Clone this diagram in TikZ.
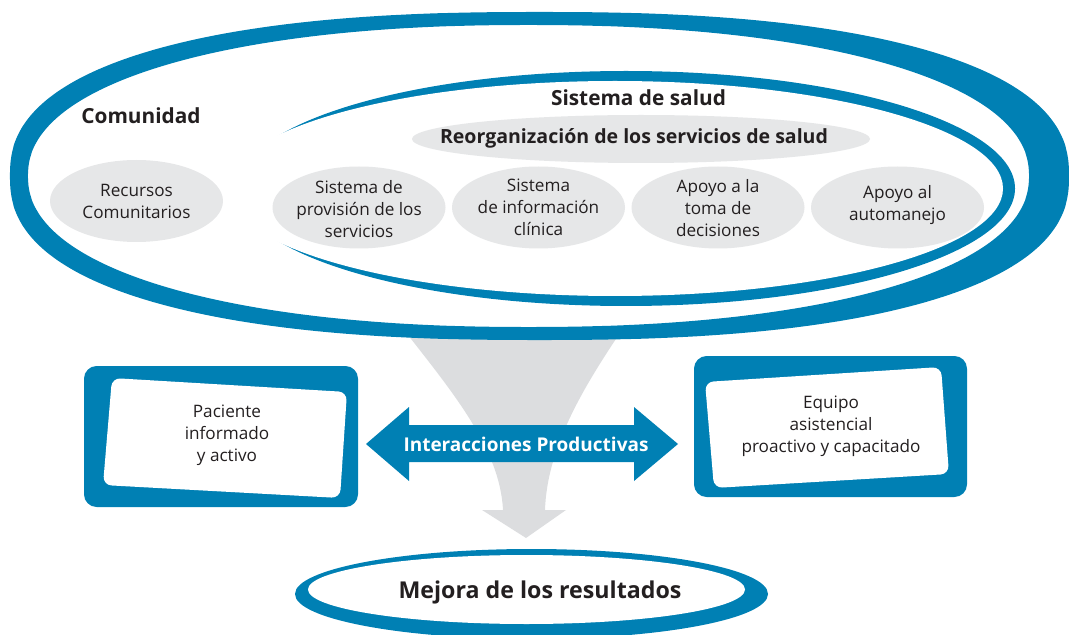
\documentclass[tikz,border=0pt]{standalone}
\usepackage{fontspec}
\setmainfont{Open Sans}
\usetikzlibrary{positioning}
\definecolor{ccmblue}{RGB}{0,128,180}
\definecolor{ccmgray}{RGB}{230,231,232}
\definecolor{ccmfunnel}{RGB}{220,221,223}
\definecolor{ccmtext}{RGB}{35,31,32}

\begin{document}
\begin{tikzpicture}[
  x=0.025cm, y=-0.025cm,
  lbl/.style={align=center, text=ccmtext, inner sep=0pt, font=\fontsize{12.2}{15.6}\selectfont},
  hd/.style={text=ccmtext, inner sep=0pt, font=\fontsize{14.8}{17}\selectfont\bfseries},
  swoosh/.style={fill=ccmblue},
  frame/.style={fill=ccmblue, rounded corners=9pt},
  card/.style={fill=white, rounded corners=6pt},
  sup/.style={domain=0.5:360.5, samples=361, variable=\t},
]
\useasboundingbox (0,0) rectangle (1069,635);

% funnel behind everything
\fill[ccmfunnel] (404,330) .. controls (455,395) and (500,450) .. (503,510) -- (482,510)
  -- (526,538) -- (566,510) -- (545,510) .. controls (547,450) and (580,392) .. (622,330) -- cycle;

% Comunidad ring (two superellipses)
\path[swoosh, even odd rule]
  plot[sup] ({539.5+529.5*sign(cos(\t))*pow(abs(cos(\t)),0.833)},
             {176+164*sign(sin(\t))*pow(abs(sin(\t)),0.833)}) -- cycle
  plot[sup] ({528.5+500.5*sign(cos(\t))*pow(abs(cos(\t)),0.909)},
             {176+151*sign(sin(\t))*pow(abs(sin(\t)),0.909)}) -- cycle;

% Sistema de salud ring
\fill[ccmblue] (626,188.5) ellipse [x radius=389, y radius=117.5];
\fill[white] (615,188.5) ellipse [x radius=388, y radius=107.5];

\node[hd] (com) at (141,116) {Comunidad};
\node[hd] (salud) at (638.5,98) {Sistema de salud};

\fill[ccmgray] (641,139) ellipse [x radius=229, y radius=24];
\node[hd, font=\fontsize{13.9}{15}\selectfont\bfseries] (reorg) at (634,138) {Reorganización de los servicios de salud};

\foreach \cx/\cy in {136.5/201, 359/207.5, 538.5/207.5, 718/207.5, 897.5/207.5}
  \fill[ccmgray] (\cx,\cy) ellipse [x radius=86.5, y radius=41];

\node[lbl] (rec) at (136.5,201) {Recursos\\Comunitarios};
\node[lbl] (prov) at (359,209) {Sistema de\\provisión de los\\servicios};
\node[lbl] (info) at (538.5,207.5) {Sistema\\de información\\clínica};
\node[lbl] (dec) at (718,208) {Apoyo a la\\toma de\\decisiones};
\node[lbl] (auto) at (897.5,205) {Apoyo al\\automanejo};

% patient and team
\fill[frame] (84,366) rectangle (358,507);
\fill[card] (112,378) -- (347,392) -- (340,498) -- (103,485) -- cycle;
\node[lbl] (pac) at (227,435) {Paciente\\informado\\y activo};

\fill[frame] (694,356) rectangle (967,497);
\fill[card] (705,382) -- (941,367) -- (949,474) -- (714,488) -- cycle;
\node[lbl] (eq) at (831,426) {Equipo\\asistencial\\proactivo y capacitado};

\fill[ccmblue] (366,444) -- (409,407) -- (409,425) -- (634,425) -- (634,407) -- (678,444)
  -- (634,481) -- (634,462) -- (409,462) -- (409,481) -- cycle;
\node[hd, text=white, font=\fontsize{13.5}{15}\selectfont\bfseries] (inter) at (526,444) {Interacciones Productivas};

% results
\fill[ccmblue] (531.5,594) ellipse [x radius=236.5, y radius=45];
\fill[white] (526.5,589.5) ellipse [x radius=218.5, y radius=34.5];
\node[hd, font=\fontsize{16.5}{18}\selectfont\bfseries] (mej) at (540,592) {Mejora de los resultados};
\end{tikzpicture}
\end{document}
